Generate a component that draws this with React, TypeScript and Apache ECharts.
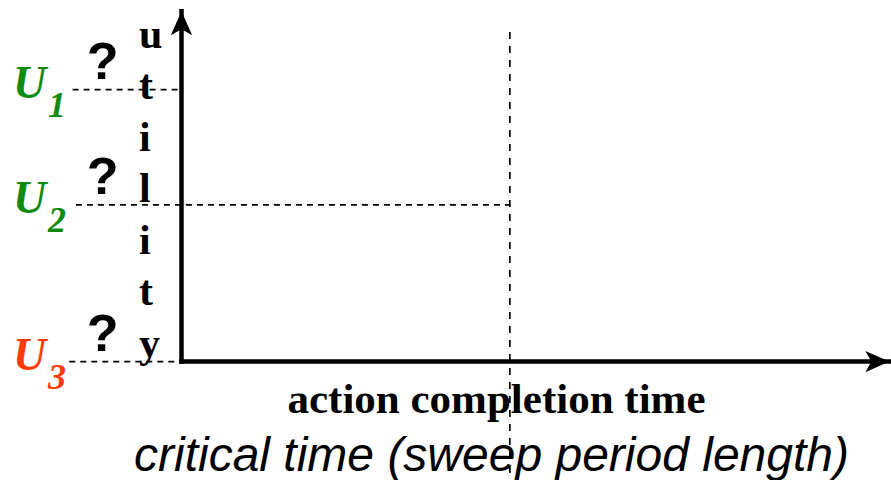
import React, { useEffect, useRef } from "react";
import * as echarts from "echarts";

// ---- data (conceptual units) ----
const xRange = [-5.5, 21.5];
const yRange = [-7.4, 22.6];
const xAxisEnd = 21.45;
const yAxisEnd = 21.9;
const criticalTime = 9.95;
const criticalTop = 20.6;
const utilityNames = ["U", "U", "U"];
const utilitySubs = ["1", "2", "3"];
const utilityValues = [17.0, 9.8, 0];
const dashStarts = [-3.3, -3.2, -3.4];
const dashEnds = [0, criticalTime, 0];
const yAxisTitle = "utility";
const xAxisTitle = "action completion time";
const xAxisSubtitle = "critical time (sweep period length)";

// ---- styles ----
const utilityColors = ["#118a11", "#118a11", "#ff3b0a"];
const SERIF = "'Liberation Serif', 'Times New Roman', serif";
const SANS = "'Liberation Sans', Arial, sans-serif";

export default function App() {
  const ref = useRef<HTMLDivElement>(null);
  useEffect(() => {
    if (!ref.current) return;
    const chart = echarts.init(ref.current, undefined, { renderer: "svg" });
    const dashed = { color: "#000", width: 1.7, type: [6, 5] as any };
    const series: any[] = utilityValues.map((v, i) => ({
      type: "line",
      data: [
        [dashStarts[i], v],
        [dashEnds[i], v],
      ],
      showSymbol: false,
      symbol: "none",
      silent: true,
      z: 1,
      lineStyle: dashed,
    }));
    series.push({
      type: "line",
      data: [
        [criticalTime, criticalTop],
        [criticalTime, yRange[0]],
      ],
      showSymbol: false,
      symbol: "none",
      silent: true,
      z: 1,
      lineStyle: { color: "#000", width: 1.7, type: [7, 7] },
      markLine: {
        silent: true,
        animation: false,
        symbol: ["none", "arrow"],
        symbolSize: [16, 24],
        label: { show: false },
        emphasis: { disabled: true },
        lineStyle: { color: "#000", width: 4.5, type: "solid", cap: "square", opacity: 1 },
        data: [
          [{ coord: [0, 0] }, { coord: [xAxisEnd, 0] }],
          [{ coord: [0, 0] }, { coord: [0, yAxisEnd] }],
        ],
      },
    });

    chart.setOption({
      animation: false,
      grid: { left: 0, right: 0, top: 0, bottom: 0, containLabel: false },
      xAxis: { type: "value", min: xRange[0], max: xRange[1], show: false },
      yAxis: { type: "value", min: yRange[0], max: yRange[1], show: false },
      series,
    });

    const graphics: any[] = [];
    utilityValues.forEach((v, i) => {
      const [, py] = chart.convertToPixel({ gridIndex: 0 }, [0, v]) as number[];
      graphics.push({
        type: "text",
        x: 13,
        y: py - 7,
        z: 10,
        style: {
          text: utilityNames[i],
          font: `italic bold 46px ${SERIF}`,
          fill: utilityColors[i],
          align: "left",
          verticalAlign: "middle",
        },
      });
      graphics.push({
        type: "text",
        x: 48,
        y: py + 15.5,
        z: 10,
        style: {
          text: utilitySubs[i],
          font: `italic bold 36px ${SERIF}`,
          fill: utilityColors[i],
          align: "left",
          verticalAlign: "middle",
        },
      });
      graphics.push({
        type: "text",
        x: 102.5,
        y: py - 29,
        z: 10,
        style: {
          text: "?",
          font: `bold 52px ${SANS}`,
          fill: "#000",
          align: "center",
          verticalAlign: "middle",
        },
      });
    });
    graphics.push({
      type: "text",
      x: 139,
      y: 8,
      z: 10,
      style: {
        text: yAxisTitle.split("").join("\n"),
        font: `bold 42px ${SERIF}`,
        lineHeight: 51.5,
        fill: "#000",
        align: "left",
        verticalAlign: "top",
      },
    });
    graphics.push({
      type: "text",
      x: 496.5,
      y: 398.5,
      z: 10,
      style: {
        text: xAxisTitle,
        font: `bold 43px ${SERIF}`,
        fill: "#000",
        align: "center",
        verticalAlign: "middle",
      },
    });
    graphics.push({
      type: "text",
      x: 491.5,
      y: 454,
      z: 10,
      style: {
        text: xAxisSubtitle,
        font: `italic 48px ${SANS}`,
        fill: "#000",
        align: "center",
        verticalAlign: "middle",
      },
    });
    chart.setOption({ graphic: graphics });

    return () => chart.dispose();
  }, []);
  return (
    <div
      ref={ref}
      style={{ position: "fixed", left: 0, top: 0, width: 891, height: 480, background: "#fff" }}
    />
  );
}
